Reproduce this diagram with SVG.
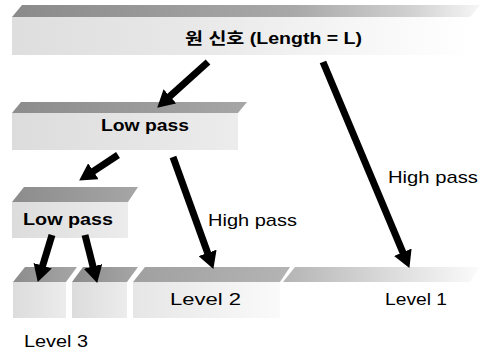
<svg xmlns="http://www.w3.org/2000/svg" width="485" height="356" viewBox="0 0 485 356">
<defs>
<style>
.top{stroke:none}
.front{stroke:none}
.lbl{font-family:"Liberation Sans","Noto Sans CJK KR",sans-serif;fill:#000}
.b{font-weight:bold}
.arrow{stroke:#000;stroke-width:7;fill:none;marker-end:url(#ah)}
</style>
<marker id="ah" markerUnits="userSpaceOnUse" markerWidth="17" markerHeight="19" refX="2" refY="9.5" orient="auto">
<path d="M0,0 L17,9.5 L0,19 z" fill="#000"/>
</marker>
<linearGradient id="topFade" x1="0" y1="0" x2="1" y2="0">
<stop offset="0" stop-color="#8a8a8a"/>
<stop offset="0.6" stop-color="#a8a8a8"/>
<stop offset="0.85" stop-color="#d0d0d0"/>
<stop offset="1" stop-color="#f6f6f6"/>
</linearGradient>
<linearGradient id="frontFade" x1="0" y1="0" x2="1" y2="0">
<stop offset="0" stop-color="#dedede"/>
<stop offset="0.4" stop-color="#e8e8e8"/>
<stop offset="0.75" stop-color="#f6f6f6"/>
<stop offset="1" stop-color="#ffffff"/>
</linearGradient>
<linearGradient id="topL" x1="0" y1="0" x2="1" y2="0">
<stop offset="0" stop-color="#8c8c8c"/>
<stop offset="1" stop-color="#a6a6a6"/>
</linearGradient>
<linearGradient id="frontL" x1="0" y1="0" x2="1" y2="0">
<stop offset="0" stop-color="#dcdcdc"/>
<stop offset="1" stop-color="#ececec"/>
</linearGradient>
<linearGradient id="topC" x1="0" y1="0" x2="1" y2="0">
<stop offset="0" stop-color="#a0a0a0"/>
<stop offset="1" stop-color="#b4b4b4"/>
</linearGradient>
<linearGradient id="frontC" x1="0" y1="0" x2="1" y2="0">
<stop offset="0" stop-color="#e6e6e6"/>
<stop offset="0.6" stop-color="#f2f2f2"/>
<stop offset="1" stop-color="#fafafa"/>
</linearGradient>
<linearGradient id="topD" x1="0" y1="0" x2="1" y2="0">
<stop offset="0" stop-color="#b4b4b4"/>
<stop offset="0.5" stop-color="#d8d8d8"/>
<stop offset="1" stop-color="#fbfbfb"/>
</linearGradient>
</defs>
<rect width="485" height="356" fill="#fff"/>

<g id="original">
<polygon class="top" points="12,17 22,5 480,5 470,17" fill="url(#topFade)"/>
<rect class="front" x="12" y="17" width="458" height="38" fill="url(#frontFade)"/>
<text class="lbl b" x="185" y="44" font-size="16" textLength="177" lengthAdjust="spacingAndGlyphs">원 신호 (Length = L)</text>
</g>

<g id="level1-low">
<polygon class="top" points="12,113 21,102 247,102 238,113" fill="url(#topL)"/>
<rect class="front" x="12" y="113" width="226" height="37" fill="url(#frontL)"/>
<text class="lbl b" x="101" y="131" font-size="16" textLength="88" lengthAdjust="spacingAndGlyphs">Low pass</text>
</g>

<g id="level2-low">
<polygon class="top" points="12,202 24,187 138,187 128,202" fill="url(#topL)"/>
<rect class="front" x="12" y="202" width="116" height="36" fill="url(#frontL)"/>
<text class="lbl b" x="23" y="225" font-size="16" textLength="90" lengthAdjust="spacingAndGlyphs">Low pass</text>
</g>

<g id="level3-a">
<polygon class="top" points="13,282 25,267 77,267 66,282" fill="url(#topL)"/>
<rect class="front" x="13" y="282" width="53" height="36" fill="url(#frontL)"/>
</g>

<g id="level3-b">
<polygon class="top" points="72,282 83,267 138,267 127,282" fill="url(#topL)"/>
<rect class="front" x="72" y="282" width="55" height="36" fill="url(#frontL)"/>
</g>

<g id="level2-high">
<polygon class="top" points="133,282 145,267 290,267 280,282" fill="url(#topC)"/>
<rect class="front" x="133" y="282" width="147" height="36" fill="url(#frontC)"/>
<text class="lbl" x="170" y="305" font-size="16" textLength="71" lengthAdjust="spacingAndGlyphs">Level 2</text>
</g>

<g id="level1-high">
<polygon class="top" points="283,282 295,267 480,267 470,282" fill="url(#topD)"/>
<text class="lbl" x="385" y="305" font-size="16" textLength="62" lengthAdjust="spacingAndGlyphs">Level 1</text>
</g>

<g id="level3-label">
<text class="lbl" x="24" y="347" font-size="16" textLength="64" lengthAdjust="spacingAndGlyphs">Level 3</text>
</g>

<g id="connectors">
<line class="arrow" x1="208" y1="62" x2="168.4" y2="97.6"/>
<line class="arrow" x1="323" y1="62" x2="403.6" y2="254.1"/>
<line class="arrow" x1="118" y1="155" x2="91.7" y2="172.3"/>
<line class="arrow" x1="173" y1="157" x2="208.3" y2="254.8"/>
<line class="arrow" x1="52" y1="235" x2="42.1" y2="267.6"/>
<line class="arrow" x1="85" y1="235" x2="93.5" y2="268.4"/>
<text class="lbl" x="388" y="183" font-size="17" textLength="90" lengthAdjust="spacingAndGlyphs">High pass</text>
<text class="lbl" x="208" y="226" font-size="17" textLength="89" lengthAdjust="spacingAndGlyphs">High pass</text>
</g>
</svg>
